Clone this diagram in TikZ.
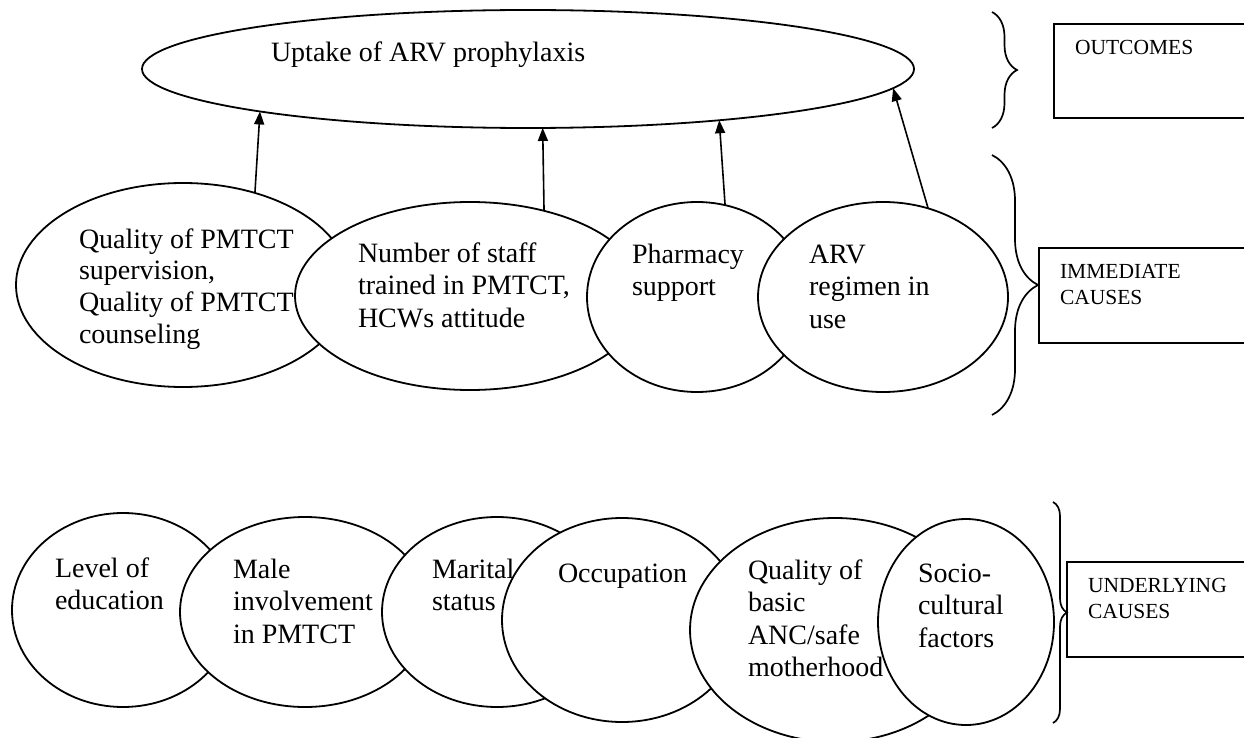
\documentclass[tikz,border=0pt]{standalone}
\usepackage{fontspec}
\setmainfont{Liberation Serif}
\usetikzlibrary{shapes.geometric,arrows.meta,decorations.pathreplacing}
\newcommand\mylines[1]{\begin{tabular}[t]{@{}l@{}}#1\end{tabular}}
\begin{document}
\begin{tikzpicture}[x=1pt,y=-1pt,
  oval/.style={draw, ellipse, fill=white, line width=1.8pt, inner sep=0pt, outer sep=0pt},
  lbl/.style={anchor=base west, inner sep=0pt, outer sep=0pt, font=\fontsize{28pt}{32.5pt}\selectfont},
  caplbl/.style={anchor=base west, inner sep=0pt, outer sep=0pt, font=\fontsize{21.5pt}{26.5pt}\selectfont},
  arr/.style={line width=1.6pt, -{Triangle[length=13pt,width=10pt]}},
  bx/.style={draw, line width=1.8pt, anchor=north west, inner sep=0pt, outer sep=0pt},
  br/.style={line width=1.7pt, decorate, decoration={brace, amplitude=#1}}
]
\useasboundingbox (0,0) rectangle (1244,738);
\clip (0,0) rectangle (1244,738);
\fill[white] (0,0) rectangle (1244,738);

% outcome ellipse
\node[oval, minimum width=772pt, minimum height=118pt] (top) at (528,69) {};

% immediate causes
\node[oval, minimum width=334pt, minimum height=204pt] (e1) at (183,285) {};
\node[oval, minimum width=350pt, minimum height=188pt] (e2) at (470,296) {};
\node[oval, minimum width=220pt, minimum height=190pt] (ph) at (697,297) {};
\node[oval, minimum width=250pt, minimum height=190pt] (arv) at (883,297) {};

% underlying causes
\node[oval, minimum width=222pt, minimum height=194pt] (lev) at (123,610) {};
\node[oval, minimum width=250pt, minimum height=190pt] (male) at (305,612) {};
\node[oval, minimum width=230pt, minimum height=190pt] (mar) at (497,612) {};
\node[oval, minimum width=240pt, minimum height=204pt] (occ) at (622,620) {};
\node[oval, minimum width=290pt, minimum height=224pt] (qual) at (835,630) {};
\node[oval, minimum width=176pt, minimum height=206pt] (soc) at (966,622) {};

% texts
\node[lbl] (t0) at (271,62) {Uptake of ARV prophylaxis};
\node[lbl, font=\fontsize{28pt}{31.8pt}\selectfont] (t1) at (79,248) {\mylines{Quality of PMTCT\\supervision,\\Quality of PMTCT\\counseling}};
\node[lbl] (t2) at (358,262) {\mylines{Number of staff\\trained in PMTCT,\\HCWs attitude}};
\node[lbl] (t3) at (632,263) {\mylines{Pharmacy\\support}};
\node[lbl] (t4) at (809,263) {\mylines{ARV\\regimen in\\use}};
\node[lbl] (t5) at (55,577) {\mylines{Level of\\education}};
\node[lbl] (t6) at (233,578) {\mylines{Male\\involvement\\in PMTCT}};
\node[lbl] (t7) at (432,578) {\mylines{Marital\\status}};
\node[lbl] (t8) at (558,582) {Occupation};
\node[lbl] (t9) at (748,579) {\mylines{Quality of\\basic\\ANC/safe\\motherhood}};
\node[lbl] (t10) at (918,582) {\mylines{Socio-\\cultural\\factors}};

% arrows
\draw[arr] (e1.52.9) -- (top.189.33);
\draw[arr] (e2.49.25) -- (top.284.73);
\draw[arr] (ph.73.05) -- (top.345.56);
\draw[arr] (arv.63.66) -- (top.357.58);

% braces
\coordinate (b1a) at (992,12);  \coordinate (b1b) at (992,128);
\coordinate (b2a) at (992,155); \coordinate (b2b) at (992,415);
\coordinate (b3a) at (1053,502); \coordinate (b3b) at (1053,723);
\draw[br=25pt] (b1a) -- (b1b);
\draw[br=46pt] (b2a) -- (b2b);
\draw[br=14pt] (b3a) -- (b3b);

% boxes
\node[bx, minimum width=260pt, minimum height=94pt] (box1) at (1054,24) {};
\node[bx, minimum width=260pt, minimum height=95pt] (box2) at (1039,248) {};
\node[bx, minimum width=260pt, minimum height=95pt] (box3) at (1067,562) {};
\node[caplbl] (c1) at (1075,55) {OUTCOMES};
\node[caplbl] (c2) at (1060,278) {\mylines{IMMEDIATE\\CAUSES}};
\node[caplbl] (c3) at (1088,592) {\mylines{UNDERLYING\\CAUSES}};
\end{tikzpicture}
\end{document}
